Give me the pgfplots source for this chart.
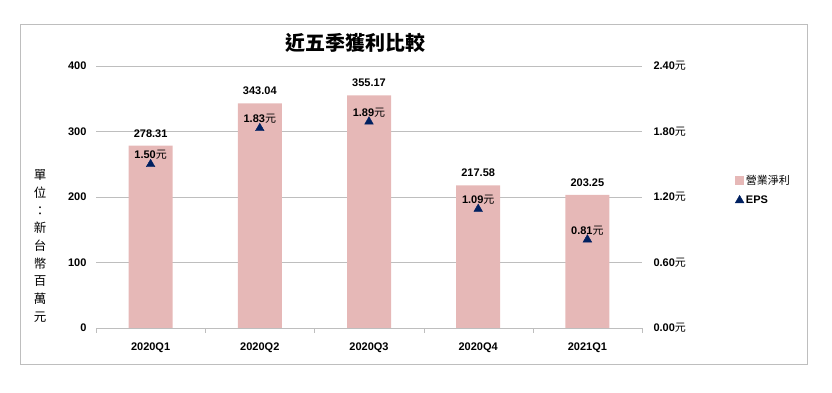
\documentclass[border=0pt]{standalone}
\usepackage{fontspec}
\setmainfont{Liberation Sans}
\newfontfamily\cjk{Noto Sans CJK TC}
\usepackage{pgfplots}
\pgfplotsset{compat=1.18}
\definecolor{barpink}{RGB}{230,184,183}
\definecolor{navy}{RGB}{0,32,96}
\definecolor{gridgray}{RGB}{190,190,190}
\begin{document}
\begin{tikzpicture}
\path (0pt,0pt) rectangle (832pt,393pt);
\draw[gridgray, line width=0.9pt] (20pt,29pt) rectangle (807pt,369pt);
\node[font=\cjk\bfseries\fontsize{20}{24}\selectfont] at (355pt,350pt) {近五季獲利比較};
\node[font=\cjk\fontsize{12.5}{17.7}\selectfont, align=center] at (40pt,147pt) {單\\位\\：\\新\\台\\幣\\百\\萬\\元};

\begin{axis}[
  at={(96pt,65pt)}, anchor=south west, scale only axis,
  width=546pt, height=262pt,
  xmin=-0.5, xmax=4.5, ymin=0, ymax=400,
  /pgf/number format/assume math mode=true,
  xtick={0,1,2,3,4},
  xticklabels={2020Q1,2020Q2,2020Q3,2020Q4,2021Q1},
  minor xtick={-0.5,0.5,1.5,2.5,3.5,4.5},
  major x tick style={draw=none},
  minor x tick style={gridgray},
  minor tick length=5pt, tick align=outside,
  ytick={0,100,200,300,400},
  ymajorgrids, grid style={gridgray},
  axis x line*=bottom, axis y line*=left,
  y axis line style={draw=none},
  y tick style={draw=none},
  major tick length=0pt,
  axis line style={gridgray},
  tick label style={font=\bfseries\fontsize{11}{13}\selectfont},
  xticklabel style={yshift=-11pt},
  yticklabel style={xshift=-6pt},
]
\addplot[ybar, bar width=44pt, fill=barpink, draw=none,
  nodes near coords={\pgfplotspointmeta}, point meta=explicit symbolic,
  nodes near coords style={font=\bfseries\fontsize{11}{13}\selectfont, text=black, anchor=south, yshift=5pt}]
  coordinates {(0,278.31)[278.31] (1,343.04)[343.04] (2,355.17)[355.17] (3,217.58)[217.58] (4,203.25)[203.25]};
\end{axis}

\begin{axis}[
  at={(96pt,65pt)}, anchor=south west, scale only axis,
  width=546pt, height=262pt,
  xmin=-0.5, xmax=4.5, ymin=0, ymax=2.4,
  axis x line=none, axis y line*=right,
  y axis line style={draw=none},
  y tick style={draw=none},
  major tick length=0pt,
  ytick={0,0.6,1.2,1.8,2.4},
  yticklabels={{0.00{\cjk\mdseries 元}},{0.60{\cjk\mdseries 元}},{1.20{\cjk\mdseries 元}},{1.80{\cjk\mdseries 元}},{2.40{\cjk\mdseries 元}}},
  tick label style={font=\bfseries\fontsize{11}{13}\selectfont},
  yticklabel style={xshift=8pt},
  legend style={at={(1.165,0.60)}, anchor=north west, draw=none, fill=none,
    font=\fontsize{11}{13}\selectfont, row sep=6pt},
  legend cell align=left,
]
\addlegendimage{only marks, mark=square*, mark size=4pt, color=barpink}
\addplot[only marks, mark=triangle*, mark size=5pt, color=navy,
  nodes near coords={\pgfplotspointmeta{\cjk\mdseries 元}}, point meta=explicit symbolic,
  nodes near coords style={font=\bfseries\fontsize{11}{13}\selectfont, text=black, anchor=south, yshift=1pt}]
  coordinates {(0,1.50)[1.50] (1,1.83)[1.83] (2,1.89)[1.89] (3,1.09)[1.09] (4,0.81)[0.81]};
\legend{{\cjk 營業淨利},{\bfseries EPS}}
\end{axis}
\end{tikzpicture}
\end{document}
